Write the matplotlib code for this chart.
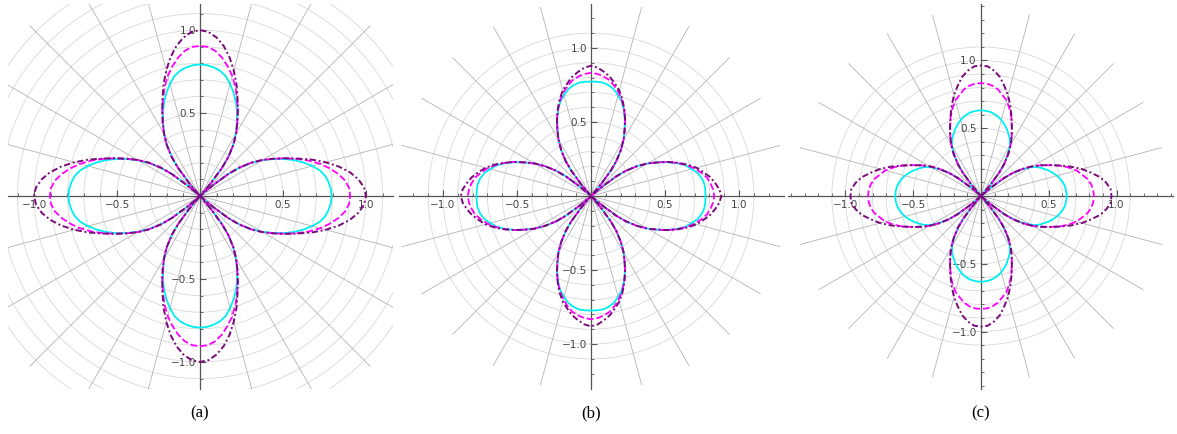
import numpy as np
import matplotlib.pyplot as plt
from matplotlib.patches import Circle

# half petal: angle from the petal axis (deg) -> radius
half_angle = [0, 3, 6, 9, 12, 15, 18, 21, 24, 27, 30, 33, 36, 38, 40, 41]

r_a_cyan    = [0.793, 0.79, 0.78, 0.765, 0.74, 0.70, 0.655, 0.605, 0.55, 0.49, 0.43, 0.365, 0.285, 0.21, 0.10, 0.0]
r_a_magenta = [0.905, 0.90, 0.88, 0.845, 0.80, 0.75, 0.69, 0.625, 0.56, 0.495, 0.435, 0.37, 0.29, 0.215, 0.10, 0.0]
r_a_purple  = [1.00, 0.99, 0.96, 0.915, 0.855, 0.785, 0.71, 0.63, 0.56, 0.495, 0.435, 0.37, 0.29, 0.215, 0.10, 0.0]

r_b_cyan    = [0.773, 0.773, 0.77, 0.758, 0.738, 0.705, 0.67, 0.62, 0.562, 0.50, 0.44, 0.37, 0.29, 0.215, 0.10, 0.0]
r_b_magenta = [0.832, 0.826, 0.812, 0.793, 0.76, 0.723, 0.678, 0.625, 0.566, 0.50, 0.44, 0.37, 0.29, 0.215, 0.10, 0.0]
r_b_purple  = [0.88, 0.868, 0.843, 0.815, 0.776, 0.738, 0.686, 0.627, 0.566, 0.50, 0.44, 0.37, 0.29, 0.215, 0.10, 0.0]

r_c_cyan    = [0.633, 0.63, 0.625, 0.615, 0.60, 0.58, 0.557, 0.53, 0.50, 0.47, 0.425, 0.36, 0.285, 0.21, 0.10, 0.0]
r_c_magenta = [0.833, 0.83, 0.818, 0.797, 0.762, 0.73, 0.68, 0.625, 0.56, 0.50, 0.44, 0.37, 0.29, 0.215, 0.10, 0.0]
r_c_purple  = [0.963, 0.958, 0.93, 0.89, 0.83, 0.77, 0.70, 0.628, 0.56, 0.50, 0.44, 0.37, 0.29, 0.215, 0.10, 0.0]

panels = [
    ('(a)', [r_a_cyan, r_a_magenta, r_a_purple]),
    ('(b)', [r_b_cyan, r_b_magenta, r_b_purple]),
    ('(c)', [r_c_cyan, r_c_magenta, r_c_purple]),
]
limits = [1.16, 1.30, 1.42]
spoke_len = [1.45, 1.32, 1.38]
circle_max = [1.4, 1.1, 1.1]
major_ticks = [-1.0, -0.5, 0.5, 1.0]
tick_labels = ['\u22121.0', '\u22120.5', '0.5', '1.0']

colors = ['#00eef0', '#ff00ff', '#7a0a7a']
styles = ['-', (0, (3.8, 1.6)), (0, (3.2, 1.4, 1.0, 1.4))]
widths = [1.3, 1.3, 1.4]

def four_petals(r_half):
    ang = np.array(half_angle, dtype=float)
    r = np.array(r_half, dtype=float)
    th = np.concatenate([-ang[::-1], ang[1:]])
    rr = np.concatenate([r[::-1], r[1:]])
    xs, ys = [], []
    for k in range(4):
        t = np.radians(th + 90 * k)
        xs.append(rr * np.cos(t))
        ys.append(rr * np.sin(t))
    x = np.concatenate(xs + [xs[0][:1]])
    y = np.concatenate(ys + [ys[0][:1]])
    return x, y

def polar_grid(ax, rmax, smax):
    for rad in np.arange(0.1, rmax + 0.01, 0.1):
        ax.add_patch(Circle((0, 0), rad, fill=False, color='#d8d8d8', lw=0.6, zorder=0))
    for deg in range(0, 360, 15):
        t = np.radians(deg)
        ax.plot([0, smax * np.cos(t)], [0, smax * np.sin(t)], color='#b4b4b4', lw=0.6, zorder=0)

fig = plt.figure(figsize=(11.77, 4.34), dpi=100)
lefts = [0.0064, 0.3386, 0.6699]

for i, (label, curves) in enumerate(panels):
    ax = fig.add_axes([lefts[i], 0.1048, 0.3271, 0.887])
    lim = limits[i]
    polar_grid(ax, circle_max[i], spoke_len[i])

    for r_half, c, ls, lw in zip(curves, colors, styles, widths):
        x, y = four_petals(r_half)
        ax.plot(x, y, color=c, ls=ls, lw=lw, zorder=3)

    ax.spines['left'].set_position('zero')
    ax.spines['bottom'].set_position('zero')
    ax.spines['top'].set_visible(False)
    ax.spines['right'].set_visible(False)
    for sp in ('left', 'bottom'):
        ax.spines[sp].set_color('#555555')
        ax.spines[sp].set_linewidth(0.9)
        ax.spines[sp].set_zorder(2)

    minor = [v / 10 for v in range(-14, 15) if v % 5 != 0 and abs(v / 10) < lim]
    ax.set_xticks(major_ticks)
    ax.set_xticklabels(tick_labels)
    ax.set_yticks(major_ticks)
    ax.set_yticklabels(tick_labels)
    ax.set_xticks(minor, minor=True)
    ax.set_yticks(minor, minor=True)
    ax.tick_params(which='major', direction='in', length=4, width=0.8,
                   color='#555555', labelsize=7.5, labelcolor='#444444', pad=3)
    ax.tick_params(which='minor', direction='in', length=2, width=0.6, color='#555555')

    ax.set_xlim(-lim, lim)
    ax.set_ylim(-lim, lim)
    ax.set_aspect('equal')

    fig.text(lefts[i] + 0.3271 / 2, 0.048, label, ha='center', va='center',
             family='Liberation Serif', fontsize=12)

fig.savefig('out.png', dpi=100)
